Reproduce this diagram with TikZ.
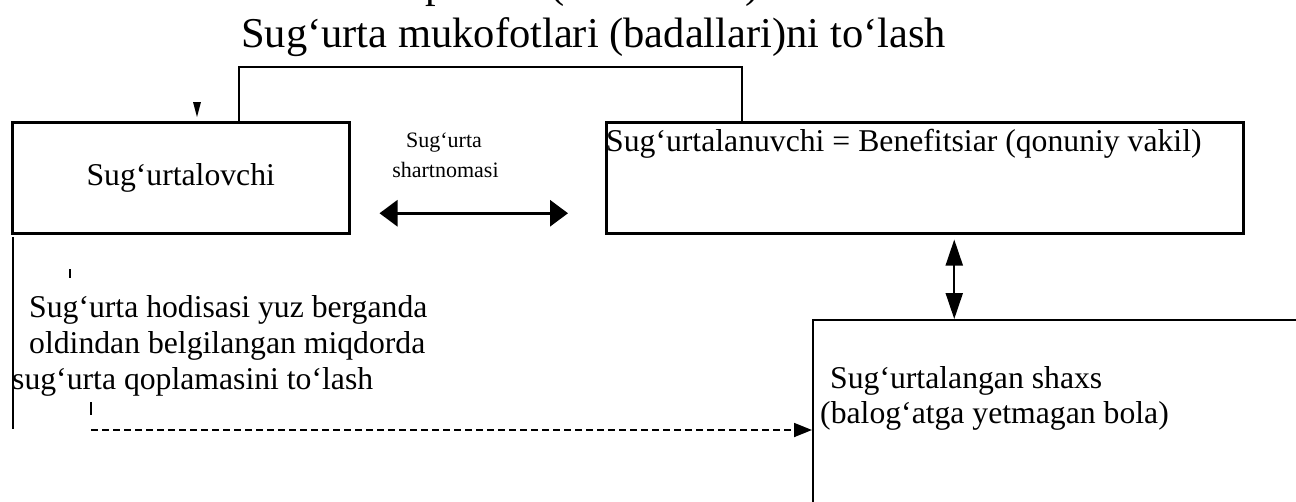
\documentclass[tikz,border=0pt]{standalone}
\usepackage{fontspec}
\setmainfont{Liberation Serif}
\usetikzlibrary{arrows.meta}

\tikzset{
  box/.style={draw, line width=2.5pt, inner sep=0pt, anchor=north west},
  bodytext/.style={inner sep=0pt, font=\fontsize{31.7}{36}\selectfont},
  titletext/.style={inner sep=0pt, font=\fontsize{42.5}{49}\selectfont},
  smalltext/.style={inner sep=0pt, font=\fontsize{22}{30}\selectfont},
  link/.style={line width=2pt},
  thickboth/.style={line width=3pt,
    {Triangle[length=18pt,width=26pt]}-{Triangle[length=18pt,width=26pt]}},
  thinboth/.style={line width=2pt,
    {Triangle[length=26pt,width=17pt]}-{Triangle[length=26pt,width=17pt]}},
  payarrow/.style={line width=1.8pt, dash pattern=on 7pt off 4pt,
    -{Triangle[length=18pt,width=14pt]}},
  tick/.style={line width=1.5pt}
}

\begin{document}
\begin{tikzpicture}[x=1pt,y=-1pt]
  \useasboundingbox (0,0) rectangle (1296,501);
  \clip (0,0) rectangle (1296,501);

  % heading: lower edge of the line above, then the title line
  \node[titletext, anchor=base west] (capP) at (425,-3) {p};
  \node[titletext, anchor=base west] (capL) at (550,-3) {(};
  \node[titletext, anchor=base west] (capR) at (745,-3) {)};
  \node[titletext, anchor=base west] (title) at (241,47)
    {Sug‘urta mukofotlari (badallari)ni to‘lash};

  % parties
  \node[box, minimum width=337pt, minimum height=111pt, bodytext] (insurer)
    at (11,121) {Sug‘urtalovchi};
  \node[box, minimum width=637pt, minimum height=111pt] (holder) at (605,121) {};
  \node[bodytext, anchor=base west] (holdertext) at (606,151)
    {Sug‘urtalanuvchi = Benefitsiar (qonuniy vakil)};
  \node[box, line width=2pt, minimum width=620pt, minimum height=320pt] (child)
    at (812,319) {};
  \node[bodytext, anchor=base west] (childA) at (830,388) {Sug‘urtalangan shaxs};
  \node[bodytext, anchor=base west] (childB) at (820,423) {(balog‘atga yetmagan bola)};

  % premium payment link over the top
  \draw[link] ([xshift=58.5pt]insurer.north) -- ++(0,54pt)
    -| ([xshift=-182.5pt]holder.north);
  \fill (193,102) -- (201,102) -- (197,117) -- cycle;

  % contract
  \node[smalltext, anchor=base] (contractA) at (444,147) {Sug‘urta};
  \node[smalltext, anchor=base] (contractB) at (445.5,177) {shartnomasi};
  \draw[thickboth] ([shift={(29pt,-35.5pt)}]insurer.east)
    -- ([shift={(-37pt,-35.5pt)}]holder.west);

  % holder -- insured person
  \draw[thinboth] ([shift={(29.5pt,-5pt)}]holder.south)
    -- ([xshift=29.5pt]holder.south |- child.north);

  % payout on an insured event
  \coordinate (sideTop) at (13,237);
  \coordinate (sideEnd) at (13,429);
  \draw[link] (sideTop) -- (sideEnd);
  \coordinate (tickA1) at (70,269);
  \coordinate (tickA2) at (70,278);
  \draw[tick] (tickA1) -- (tickA2);
  \coordinate (tickB1) at (91,402);
  \coordinate (tickB2) at (91,415);
  \draw[tick] (tickB1) -- (tickB2);
  \node[bodytext, anchor=base west] (payA) at (29,317) {Sug‘urta hodisasi yuz berganda};
  \node[bodytext, anchor=base west] (payB) at (29,353) {oldindan belgilangan miqdorda};
  \node[bodytext, anchor=base west] (payC) at (12,389) {sug‘urta qoplamasini to‘lash};
  \coordinate (payStart) at (91,430);
  \draw[payarrow] (payStart) -- (child.west |- payStart);
\end{tikzpicture}
\end{document}
